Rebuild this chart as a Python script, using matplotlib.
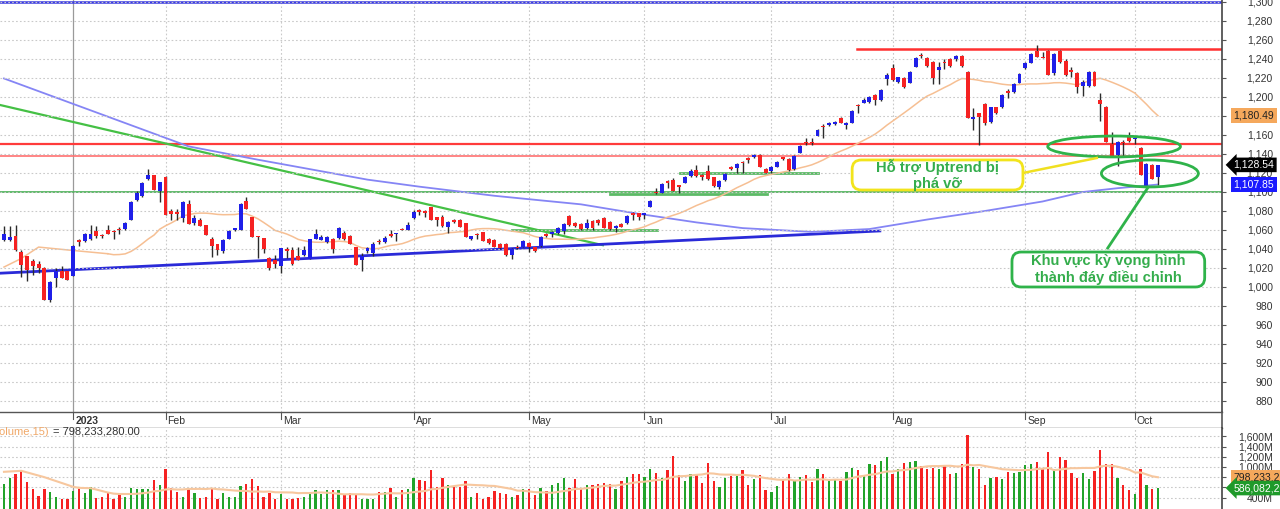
import numpy as np
import pandas as pd
import matplotlib
matplotlib.use('Agg')
import matplotlib.pyplot as plt
from matplotlib.patches import Ellipse, FancyBboxPatch
from matplotlib.ticker import FuncFormatter, MultipleLocator, FixedLocator

plt.rcParams['font.family'] = ['Liberation Sans', 'DejaVu Sans']

# ---------------- DATA ----------------
holidays = ['2023-01-02', '2023-01-20', '2023-01-23', '2023-01-24', '2023-01-25',
            '2023-01-26', '2023-05-01', '2023-05-02', '2023-05-03', '2023-09-01', '2023-09-04']

opens = [1049, 1049, 1054, 1037, 1033, 1027, 1024.5, 1020, 986, 1009.5, 1017, 1017,
         1012, 1049, 1048, 1050, 1058.6, 1055, 1059.6, 1059, 1061, 1061.5, 1071, 1092, 1095.4, 1113.7, 1118, 1100.7,
         1116, 1079.6, 1079, 1072.6, 1087.7, 1067, 1071, 1065.6, 1051, 1045.6, 1037.5, 1051, 1059.6, 1059.6, 1091, 1074,
         1054, 1051.6, 1030, 1028.7,
         1022.4, 1040, 1039, 1033, 1034, 1029.7, 1051, 1049, 1047, 1050, 1051.6, 1057, 1054, 1042, 1028, 1037.5, 1035.6,
         1048, 1047, 1056, 1056, 1061, 1059.6,
         1073, 1081, 1080, 1083.8, 1073.2, 1074, 1062.7, 1070.4, 1071, 1067.6, 1050, 1055.7, 1057.5, 1050, 1049.4, 1045,
         1045, 1033.6, 1042.4, 1042.4,
         1046.6, 1041.7, 1043, 1055.7, 1055.7, 1057, 1059.2, 1074.7, 1067.6, 1066.2, 1061.7, 1069.7, 1071, 1072.2, 1068.7,
         1061.7, 1066.2, 1066.9, 1077.5, 1077.5,
         1075.7, 1083.8, 1100.3, 1099.2, 1111.5, 1112.6, 1107, 1109.7, 1116.8, 1123, 1117.8, 1122.4, 1115.4, 1104.8,
         1112.6, 1126.6, 1124.8, 1131.8, 1135.4, 1136.4, 1138.9, 1123.8,
         1122.4, 1126.6, 1136.4, 1134.3, 1123.8, 1141.3, 1151.9, 1152.9, 1158.9, 1169.4, 1170.5, 1171.5, 1177.5, 1170.5,
         1172.9, 1191.5, 1194, 1195, 1202, 1196.8, 1218.5,
         1230.1, 1216, 1219.6, 1215, 1231.9, 1244.2, 1240.7, 1237.2, 1228.4, 1237.2, 1239.6, 1239.6, 1243.1, 1226.6,
         1176.4, 1182.8, 1192.6, 1174, 1189, 1189, 1206.6, 1205.6, 1215,
         1230.1, 1236.1, 1248.7, 1242.4, 1248.7, 1225.6, 1248.7, 1238.2, 1228.4, 1225.6, 1211.5, 1211.5, 1226.6, 1196.8,
         1189.8, 1150.5, 1138.9, 1152.9, 1157.5,
         1155.4, 1146, 1106.2, 1128.3, 1115.4]
highs = [1064, 1064, 1065, 1038.6, 1033, 1029, 1027, 1021, 1006, 1020, 1022, 1017,
         1044.6, 1050, 1057, 1065, 1064, 1056, 1065, 1060, 1063.5, 1068, 1090, 1100.7, 1111, 1124, 1118, 1111,
         1117, 1082, 1082, 1090, 1092, 1076, 1072.6, 1065.6, 1053, 1045.6, 1050.5, 1060, 1062, 1088.4, 1094.7, 1074,
         1054, 1051.6, 1032, 1034,
         1041, 1042, 1042, 1042, 1043.5, 1050, 1061, 1055, 1054, 1051.6, 1063, 1058.6, 1055, 1042, 1035.6, 1042, 1047,
         1051, 1054, 1059.6, 1057, 1062, 1068,
         1081, 1081.7, 1081, 1084.5, 1073.2, 1075.7, 1069.7, 1072, 1072, 1067.6, 1053.6, 1057, 1058, 1052, 1050, 1046,
         1046, 1040.6, 1044, 1049.4,
         1047.6, 1042.4, 1053.6, 1057, 1059, 1062.7, 1067, 1075.7, 1068.7, 1067.6, 1072, 1071, 1072, 1073.2, 1069.7,
         1065.2, 1067, 1075.7, 1079.2, 1078.2,
         1078.2, 1091.5, 1103.8, 1109, 1112.6, 1114.3, 1107.3, 1116.8, 1123.8, 1128.4, 1118.9, 1128.4, 1116, 1112.6,
         1119.6, 1127.3, 1130.1, 1133, 1136.4, 1140, 1140, 1124.8,
         1127.3, 1133, 1137.1, 1135.4, 1138.9, 1149.4, 1156.4, 1156.4, 1165.9, 1171.5, 1174, 1175, 1178.5, 1174,
         1186.3, 1192.6, 1198.5, 1201, 1203, 1208, 1225.6,
         1234.3, 1221.4, 1221.4, 1227.7, 1242.4, 1245.9, 1241.7, 1238.2, 1237.2, 1239.6, 1240.7, 1244.2, 1244.2, 1227.7,
         1188, 1183.5, 1193.3, 1189.8, 1189.8, 1203, 1208, 1214.3, 1224.9,
         1237.2, 1245.9, 1254.7, 1247.7, 1249.4, 1245.9, 1249.4, 1239.6, 1231.2, 1226.6, 1217.9, 1227.7, 1227.7, 1204.5,
         1190.5, 1163.4, 1153.6, 1154.7, 1163.4,
         1158.2, 1147, 1130.1, 1129, 1128.8]
lows = [1048, 1048, 1038, 1011, 1006, 1013, 1015, 986, 984, 999.6, 1009, 1007,
        1012, 1043, 1047, 1049, 1052, 1052, 1056, 1050, 1056, 1060, 1071, 1091, 1095, 1113, 1102, 1089,
        1076, 1071, 1071, 1068, 1066.6, 1065.6, 1064.5, 1055, 1032, 1034, 1035.6, 1050, 1059, 1059.6, 1082, 1053,
        1030.5, 1036, 1018, 1020,
        1014.7, 1030, 1023, 1028, 1033, 1029, 1051, 1049, 1046, 1036, 1051, 1049, 1045, 1023.5, 1017, 1036, 1033,
        1045, 1046, 1052.6, 1048, 1059.6, 1059.6,
        1072, 1075.7, 1074, 1070.4, 1064, 1063.4, 1057, 1067.6, 1062.7, 1052.2, 1049.4, 1050, 1048.7, 1045, 1041.7,
        1039.6, 1032.5, 1029, 1039.6, 1041.7,
        1037, 1037, 1042.4, 1053, 1053, 1056.3, 1056.3, 1064, 1063.4, 1059.9, 1060.6, 1059.9, 1065, 1061.7, 1059.9,
        1058, 1062.7, 1066.2, 1071, 1071,
        1072, 1083.8, 1097.8, 1098.5, 1103.8, 1101.3, 1098.5, 1109, 1116, 1116, 1112.6, 1112.6, 1105.5, 1102.7,
        1111.9, 1123.1, 1119.6, 1119.6, 1130.1, 1135.4, 1125.9, 1119.6,
        1120.3, 1125.9, 1133.6, 1122.4, 1123.1, 1140.6, 1149.4, 1149.4, 1158.9, 1156.4, 1169.4, 1170.5, 1172.9, 1165.9,
        1172.2, 1183.5, 1193.3, 1194, 1191.5, 1196, 1212.6,
        1217.1, 1214.3, 1209.1, 1214.3, 1231.2, 1240.7, 1231.9, 1213.6, 1213.6, 1229.1, 1231.9, 1238.2, 1231.9, 1177.5,
        1165.2, 1149.4, 1170.5, 1173, 1182, 1188, 1198.5, 1204.5, 1214.3,
        1229.1, 1235.4, 1241.7, 1240.7, 1223.1, 1223.1, 1236.1, 1222.1, 1221.4, 1203.8, 1201, 1210.8, 1211.5, 1175,
        1152.9, 1137.1, 1127.3, 1137.1, 1152.9,
        1150.5, 1117.8, 1105.5, 1113.3, 1107.3]
closes = [1056, 1053, 1038.5, 1023.5, 1018, 1022, 1020, 986, 1005, 1017, 1009.5, 1007,
          1043.5, 1047, 1056, 1056, 1054, 1054, 1056, 1057.5, 1059.6, 1067, 1089, 1099, 1109.5, 1118, 1102, 1111,
          1076, 1077, 1077, 1089, 1066.6, 1072.6, 1064.5, 1055, 1043.5, 1038.6, 1049, 1059, 1062, 1087.4, 1082, 1053,
          1053, 1040, 1020, 1024.5,
          1041, 1037.5, 1024.5, 1028, 1038.6, 1050, 1056, 1053, 1053, 1040, 1062, 1050, 1045, 1023.5, 1033, 1041, 1045,
          1047, 1052, 1054, 1056.5, 1059.6, 1065,
          1079, 1079, 1078, 1070.4, 1070.4, 1064, 1068.7, 1068.7, 1062.7, 1052.2, 1053.6, 1054.6, 1048.7, 1046, 1042.4,
          1040.6, 1033.6, 1039.5, 1040.6, 1048.7,
          1041.7, 1038.2, 1052.9, 1053.6, 1058, 1061.7, 1066.2, 1065.2, 1064, 1060.6, 1067.6, 1061.7, 1066.9, 1061.7,
          1060.6, 1064, 1062.7, 1074.7, 1075.7, 1074,
          1077.5, 1090.8, 1098.5, 1108, 1109, 1101.3, 1105, 1116, 1122.4, 1116.8, 1116, 1113.3, 1106.2, 1111.5,
          1118.9, 1123.8, 1129.4, 1130.1, 1133.6, 1138.9, 1125.9, 1120.3,
          1125.9, 1131.8, 1134.3, 1123.1, 1137.8, 1148.4, 1151.2, 1151.2, 1165.2, 1168.7, 1172.9, 1174, 1172.9, 1172.9,
          1185.6, 1190.5, 1196.8, 1200.3, 1196.8, 1207.3, 1223.1,
          1217.9, 1220.7, 1210.8, 1226.6, 1241.4, 1243.1, 1232.6, 1219.6, 1231.9, 1235.4, 1232.6, 1243.1, 1232.6, 1177.5,
          1179.2, 1178.5, 1172.2, 1189, 1182.8, 1202, 1204.5, 1213.6, 1224.2,
          1236.1, 1245.2, 1242.4, 1240.7, 1223.1, 1245.2, 1237.2, 1223.1, 1226.6, 1210.8, 1216, 1226.6, 1211.5, 1192.6,
          1152.9, 1137.1, 1152.9, 1151.2, 1154,
          1156.4, 1117.8, 1129.4, 1113.3, 1128.54]
# volume, millions of shares
volumes = [671, 791, 854, 949, 709, 570, 431, 576, 507, 418, 380, 368,
           519, 570, 494, 608, 399, 418, 507, 380, 462, 418, 589, 570, 576, 576, 747, 652,
           968, 582, 507, 418, 595, 481, 399, 412, 595, 368, 494, 418, 418, 633, 658, 759,
           633, 418, 494, 368,
           462, 380, 380, 399, 418, 475, 557, 462, 538, 557, 557, 462, 481, 462, 380, 380, 368,
           507, 507, 589, 418, 557, 576,
           778, 747, 715, 949, 601, 778, 652, 633, 601, 734, 418, 494, 368, 418, 526, 481,
           462, 418, 443, 570,
           576, 443, 589, 526, 652, 684, 778, 589, 759, 589, 652, 652, 664, 684, 671,
           570, 734, 810, 854, 860,
           810, 968, 886, 778, 936, 1208, 842, 728, 860, 842, 684, 1082, 728, 601,
           791, 823, 854, 949, 639, 766, 842, 538,
           513, 633, 747, 860, 715, 810, 842, 696, 955, 854, 747, 759, 734, 892,
           987, 949, 842, 1063, 1044, 1113, 1202,
           860, 968, 1082, 1094, 1113, 1012, 968, 987, 968, 1031, 854, 873, 1050, 1632,
           1000, 968, 652, 778, 810, 766, 905, 873, 892,
           1031, 1063, 1094, 968, 1297, 968, 1189, 1145, 873, 778, 873, 759, 917, 1335,
           1063, 1050, 778, 652, 538,
           462, 968, 639, 576, 589]

# orange MA20 before 20 bars of history exist
ma20_early_idx = [0, 3, 6, 11, 18]
ma20_early_val = [1021, 1030, 1042, 1039, 1035]
# long moving average (purple)
ma_long_idx = [0, 15, 32, 44, 63, 72, 85, 100, 110, 120, 128, 140, 150, 160, 170, 180, 187, 193, 200]
ma_long_val = [1219.5, 1186, 1148, 1134, 1113, 1105.6, 1096, 1087, 1077, 1068, 1062, 1058, 1061,
               1071, 1080, 1090, 1100, 1104, 1107.85]
# volume MA15 before 15 bars exist
vma_early_idx = [0, 3, 7, 12, 13]
vma_early_val = [905, 925, 800, 610, 590]

last_ma20 = 1180.49
last_malong = 1107.85
last_vma = 798233280.00
last_vol = 586082200

# ---------------- PREP ----------------
dates = pd.bdate_range('2022-12-15', '2023-10-06')
dates = dates[~dates.isin(pd.to_datetime(holidays))]
o, h, l, c = (np.array(v, float) for v in (opens, highs, lows, closes))
vol = np.array(volumes, float)
n = len(c)
x = np.arange(n)
up = c >= o

ma20 = pd.Series(c).rolling(20).mean()
vma15 = pd.Series(vol).rolling(15).mean()

month_idx = [i for i in range(1, n) if dates[i].month != dates[i - 1].month]
month_lbl = ['2023' if dates[i].month == 1 else dates[i].strftime('%b') for i in month_idx]

# ---------------- FIGURE ----------------
W, H = 1280, 509
fig = plt.figure(figsize=(W / 100, H / 100), dpi=100)


def rect(x0, y0, x1, y1):
    return [x0 / W, 1 - y1 / H, (x1 - x0) / W, (y1 - y0) / H]


ax = fig.add_axes(rect(0, 0, 1222, 412))
axd = fig.add_axes(rect(0, 412, 1222, 428))
axv = fig.add_axes(rect(0, 428, 1222, 509))

XL = (-0.69, 211.1)
for a in (ax, axd, axv):
    a.set_xlim(*XL)
    a.set_facecolor('white')

BLUE = '#1f1fe8'
RED = '#f52222'
GREEN_V = '#22a32a'
GRID = '#c9c9c9'
AX_C = '#555555'

# ----- price panel -----
ax.set_ylim(868.4, 1302.1)
ax.yaxis.set_major_locator(MultipleLocator(20))
ax.grid(axis='y', color=GRID, linestyle=(0, (1.5, 2)), lw=0.8, zorder=0)
for i, lb in zip(month_idx, month_lbl):
    if lb == '2023':
        ax.axvline(i, color='#9a9a9a', lw=0.9, zorder=0)
        axv.axvline(i, color='#9a9a9a', lw=0.9, zorder=0)
    else:
        ax.axvline(i, color=GRID, lw=0.8, linestyle=(0, (1.5, 2)), zorder=0)
        axv.axvline(i, color=GRID, lw=0.8, linestyle=(0, (1.5, 2)), zorder=0)

# support / resistance lines
ax.axhline(1300, color='#3a3ae0', lw=1.8, zorder=1)
ax.axhline(1150, color='#ff3b3b', lw=1.6, zorder=1)
ax.axhline(1138, color='#ff7070', lw=1.2, zorder=1)
ax.axhline(1100, color='#55b560', lw=1.3, zorder=1)
ax.plot([147.8, XL[1]], [1250, 1250], color='#ff3030', lw=1.8, zorder=1)
ax.plot([88.0, 113.2], [1060, 1060], color='#5cba66', lw=2, zorder=1)
ax.plot([105.0, 132.2], [1098, 1098], color='#5cba66', lw=2, zorder=1)
ax.plot([117.2, 141.1], [1120, 1120], color='#5cba66', lw=2, zorder=1)
ax.plot([-0.69, 103.8], [1191.6, 1044], color='#45c045', lw=1.6, zorder=1)
ax.plot([-0.69, 151.8], [1014.5, 1059], color='#2a2ad8', lw=2, zorder=1)

# moving averages
ax.plot(ma_long_idx, ma_long_val, color='#8585f5', lw=1.3, zorder=1)
ax.plot(ma20_early_idx, ma20_early_val, color='#f6bf93', lw=1.1, zorder=1)
ax.plot(x[18:], np.concatenate([[ma20_early_val[-1]], ma20.values[19:]]), color='#f6bf93', lw=1.1, zorder=1)

# candles
ax.vlines(x, l, h, color='#2b2b2b', lw=1.0, zorder=2)
body_bottom = np.minimum(o, c)
body_h = np.maximum(np.abs(c - o), 0.9)
ax.bar(x, body_h, bottom=body_bottom, width=0.68, color=np.where(up, BLUE, RED), zorder=3, linewidth=0)

# ellipses
ax.add_patch(Ellipse((192.4, 1147.9), 23, 22, fill=False, ec='#2fb34a', lw=2, zorder=4))
ax.add_patch(Ellipse((198.6, 1119.5), 16.8, 28.4, fill=False, ec='#2fb34a', lw=2, zorder=4))

# annotation boxes
ax.plot([176.6, 189.4], [1120, 1135.8], color='#f0e020', lw=1.8, zorder=4)
ax.plot([191.3, 198.3], [1041, 1105], color='#2fb34a', lw=2, zorder=4)
asp = 5.77 / 0.95
ax.add_patch(FancyBboxPatch((147.0, 1102.1), 29.6, 31.6, boxstyle='round,pad=0,rounding_size=1.6',
                            mutation_aspect=asp, fc='white', ec='#f2e41c', lw=2, zorder=5))
ax.text(161.8, 1118.2, 'Hỗ trợ Uptrend bị\nphá vỡ', ha='center', va='center', fontsize=10.6,
        fontweight='bold', color='#34ad4c', linespacing=1.15, zorder=6)
ax.add_patch(FancyBboxPatch((174.7, 1000.0), 33.4, 36.8, boxstyle='round,pad=0,rounding_size=1.6',
                            mutation_aspect=asp, fc='white', ec='#2fb34a', lw=2, zorder=5))
ax.text(191.4, 1018.4, 'Khu vực kỳ vọng hình\nthành đáy điều chỉnh', ha='center', va='center',
        fontsize=10.6, fontweight='bold', color='#34ad4c', linespacing=1.2, zorder=6)

# axes styling
for a in (ax, axv):
    a.yaxis.tick_right()
    a.tick_params(axis='y', length=3, width=0.8, color=AX_C, labelsize=7.5, labelcolor='#333333', pad=33.6)
    a.tick_params(axis='x', bottom=False, labelbottom=False)
    for s in ('left', 'top', 'bottom'):
        a.spines[s].set_visible(False)
    a.spines['right'].set_color('#444444')
    a.spines['right'].set_linewidth(1.2)
ax.yaxis.set_major_formatter(FuncFormatter(lambda v, _: f'{v:,.0f}'))

# ----- date strip -----
axd.set_ylim(0, 1)
axd.set_xticks([])
axd.set_yticks([])
axd.spines['left'].set_visible(False)
for s in ('top', 'bottom', 'right'):
    axd.spines[s].set_color('#555555')
    axd.spines[s].set_linewidth(1.0)
axd.spines['right'].set_linewidth(1.2)
for i, lb in zip(month_idx, month_lbl):
    axd.plot([i, i], [0.55, 1.0], color='#555555', lw=0.8)
    axd.text(i + 0.35, 0.42, lb, ha='left', va='center', fontsize=7.5, color='#333333',
             fontweight='bold' if lb == '2023' else 'normal')

# ----- volume panel -----
axv.set_ylim(174, 1767)
axv.yaxis.set_major_locator(FixedLocator([400, 600, 800, 1000, 1200, 1400, 1600]))
axv.grid(axis='y', color=GRID, linestyle=(0, (1.5, 2)), lw=0.8, zorder=0)
axv.yaxis.set_major_formatter(FuncFormatter(lambda v, _: '' if v in (600, 800) else f'{v:,.0f}M'))
axv.bar(x, vol, width=0.4, color=np.where(up, GREEN_V, RED), zorder=2, linewidth=0)
axv.plot(vma_early_idx, vma_early_val, color='#f7c79e', lw=1.5, zorder=3)
axv.plot(x[13:], np.concatenate([[vma_early_val[-1]], vma15.values[14:]]), color='#f7c79e', lw=1.5, zorder=3)

fig.text(49 / W, 1 - 432 / H, 'MA(Volume,15)', ha='right', va='center', fontsize=8, color='#f0a868')
fig.text(53 / W, 1 - 432 / H, f'= {last_vma:,.2f}', ha='left', va='center', fontsize=8, color='#333333')

# ----- last value labels on the right -----
tr = ax.get_yaxis_transform()
ax.text(1.0095, last_ma20, f'{last_ma20:,.2f}', transform=tr, ha='left', va='center', fontsize=7.5,
        color='#222222', clip_on=False, zorder=10,
        bbox=dict(boxstyle='square,pad=0.22', fc='#f5a85c', ec='none'))
ax.text(1.0095, c[-1], f'{c[-1]:,.2f}', transform=tr, ha='left', va='center', fontsize=7.5,
        color='white', clip_on=False, zorder=10,
        bbox=dict(boxstyle='larrow,pad=0.22', fc='black', ec='none'))
ax.text(1.0095, last_malong, f'{last_malong:,.2f}', transform=tr, ha='left', va='center', fontsize=7.5,
        color='white', clip_on=False, zorder=10,
        bbox=dict(boxstyle='square,pad=0.22', fc='#1a1aff', ec='none'))
trv = axv.get_yaxis_transform()
axv.text(1.0095, last_vma / 1e6, f'{last_vma:,.0f}', transform=trv, ha='left', va='center', fontsize=7.5,
         color='#222222', clip_on=False, zorder=10,
         bbox=dict(boxstyle='square,pad=0.22', fc='#f5a85c', ec='none'))
axv.text(1.0095, last_vol / 1e6, f'{last_vol:,.0f}', transform=trv, ha='left', va='center', fontsize=7.5,
         color='white', clip_on=False, zorder=10,
         bbox=dict(boxstyle='larrow,pad=0.22', fc='#1f9a2a', ec='none'))

fig.canvas.draw()
for a in (ax, axv):
    for lbl in a.get_yticklabels():
        lbl.set_horizontalalignment('right')

fig.savefig('out.png', dpi=100)
